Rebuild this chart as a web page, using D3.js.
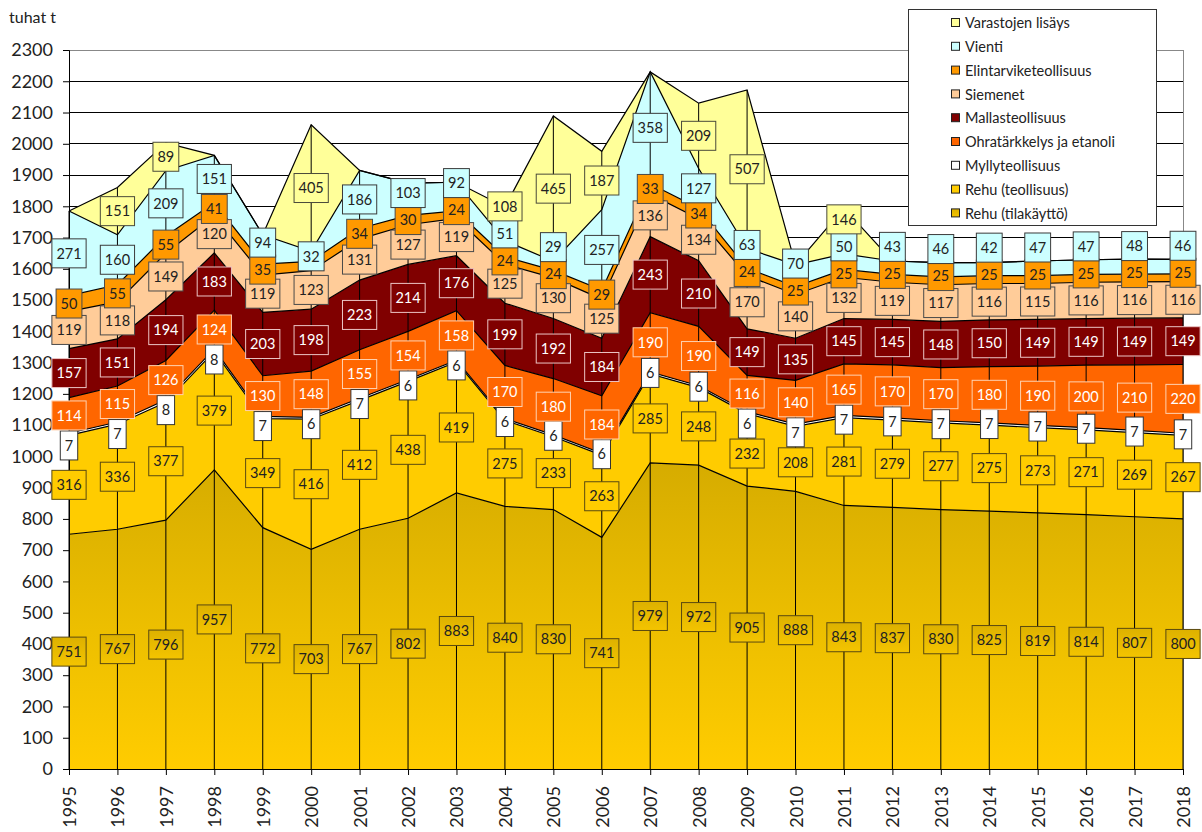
<!DOCTYPE html>
<html><head><meta charset="utf-8">
<script src="https://cdn.jsdelivr.net/npm/d3@7"></script>
<style>
body{margin:0;background:#fff}
svg{display:block}
text{font-family:Lato,"Open Sans",sans-serif}
</style>
</head><body>
<svg id="chart" width="1202" height="832"></svg>
<script>
// ---------- DATA ----------
const years = [1995,1996,1997,1998,1999,2000,2001,2002,2003,2004,2005,2006,2007,2008,2009,2010,2011,2012,2013,2014,2015,2016,2017,2018];
const seriesNames = ["Rehu (tilakäyttö)","Rehu (teollisuus)","Myllyteollisuus","Ohratärkkelys ja etanoli","Mallasteollisuus","Siemenet","Elintarviketeollisuus","Vienti","Varastojen lisäys"];
const rehuTila      = [751,767,796,957,772,703,767,802,883,840,830,741,979,972,905,888,843,837,830,825,819,814,807,800];
const rehuTeoll     = [316,336,377,379,349,416,412,438,419,275,233,263,285,248,232,208,281,279,277,275,273,271,269,267];
const mylly         = [7,7,8,8,7,6,7,6,6,6,6,6,6,6,6,7,7,7,7,7,7,7,7,7];
const ohra          = [114,115,126,124,130,148,155,154,158,170,180,184,190,190,116,140,165,170,170,180,190,200,210,220];
const mallas        = [157,151,194,183,203,198,223,214,176,199,192,184,243,210,149,135,145,145,148,150,149,149,149,149];
const siemenet      = [119,118,149,120,119,123,131,127,119,125,130,125,136,134,170,140,132,119,117,116,115,116,116,116];
const elintarvike   = [50,55,55,41,35,30,34,30,24,24,24,29,33,34,24,25,25,25,25,25,25,25,25,25];
const vienti        = [271,160,209,151,94,32,186,103,92,51,29,257,358,127,63,70,50,43,46,42,47,47,48,46];
const varastot      = [0,151,89,0,0,405,0,0,0,108,465,187,0,209,507,0,146,0,0,0,0,0,0,0];
const yTicks = [0,100,200,300,400,500,600,700,800,900,1000,1100,1200,1300,1400,1500,1600,1700,1800,1900,2000,2100,2200,2300];
const unitLabel = "tuhat t";
const legendOrder = ["Varastojen lisäys","Vienti","Elintarviketeollisuus","Siemenet","Mallasteollisuus","Ohratärkkelys ja etanoli","Myllyteollisuus","Rehu (teollisuus)","Rehu (tilakäyttö)"];
// value labels that are hidden (covered) in the original chart
const hiddenLabels = [["Elintarviketeollisuus",2000]];

// ---------- STYLE ----------
const seriesValues = [rehuTila, rehuTeoll, mylly, ohra, mallas, siemenet, elintarvike, vienti, varastot];
const fills = ["url(#gTila)","#FFCC00","#FFFFFF","#FF6600","#800000","#FFCC99","#FF9900","#CCFFFF","#FFFF99"];
const labelFill = ["url(#gTilaBox)","#FFCC00","#FFFFFF","#FF6600","#800000","#FFCC99","#FF9900","#CCFFFF","#FFFF99"];
const labelStroke = ["#5a4a10","#5a4a10","#333","#FFD2B0","#EBC4C4","#4a4a4a","#4a4a4a","#3a3a3a","#4a4a3a"];
const labelText = ["#222","#222","#222","#FFFFFF","#FFFFFF","#222","#222","#222","#222"];

const table = years.map((yr,j)=>{
  const o = {year:yr};
  seriesNames.forEach((n,i)=>o[n]=seriesValues[i][j]);
  return o;
});

const svg = d3.select("#chart");
const defs = svg.append("defs");
const g1 = defs.append("linearGradient").attr("id","gTila").attr("x1",0).attr("y1",0).attr("x2",0).attr("y2",1);
g1.append("stop").attr("offset","0").attr("stop-color","#D6AC00");
g1.append("stop").attr("offset","0.55").attr("stop-color","#EDBF00");
g1.append("stop").attr("offset","1").attr("stop-color","#FFCC00");
const g2 = defs.append("linearGradient").attr("id","gTilaBox").attr("x1",0).attr("y1",0).attr("x2",0).attr("y2",1);
g2.append("stop").attr("offset","0").attr("stop-color","#DDB100");
g2.append("stop").attr("offset","1").attr("stop-color","#F4C400");

const x = d3.scalePoint().domain(years).range([69,1183]);
const y = d3.scaleLinear().domain([0,2300]).range([769,50]);

// gridlines
svg.append("g").selectAll("line").data(yTicks.filter(t=>t>0)).join("line")
  .attr("x1",69).attr("x2",1183).attr("y1",d=>y(d)).attr("y2",d=>y(d))
  .attr("stroke",d=>d===2300?"#888":"#000").attr("stroke-width",1).attr("shape-rendering","crispEdges");
svg.append("line").attr("x1",1183).attr("x2",1183).attr("y1",y(2300)).attr("y2",y(0))
  .attr("stroke","#888").attr("shape-rendering","crispEdges");

// stack
const stacked = d3.stack().keys(seriesNames)(table);
const area = d3.area().x(d=>x(d.data.year)).y0(d=>y(d[0])).y1(d=>y(d[1]));
const topLine = d3.line().x(d=>x(d.data.year)).y(d=>y(d[1]));
svg.append("g").selectAll("path").data(stacked).join("path")
  .attr("d",area).attr("fill",(d,i)=>fills[i]).attr("stroke","none");
svg.append("g").selectAll("path").data(stacked).join("path")
  .attr("d",topLine).attr("fill","none").attr("stroke","#000").attr("stroke-width",1.2);

// drop lines
const totals = stacked[stacked.length-1];
svg.append("g").selectAll("line").data(totals).join("line")
  .attr("x1",d=>x(d.data.year)).attr("x2",d=>x(d.data.year))
  .attr("y1",y(0)).attr("y2",d=>y(d[1]))
  .attr("stroke","#000").attr("stroke-width",1);

// axes
const yAxis = svg.append("g").attr("transform","translate(69,0)")
  .call(d3.axisLeft(y).tickValues(yTicks).tickSize(6).tickPadding(10).tickFormat(d3.format("d")));
yAxis.select(".domain").attr("stroke","#000");
yAxis.selectAll(".tick line").attr("stroke","#000");
yAxis.selectAll("text").attr("font-size",18).attr("fill","#222").attr("font-family","Lato");

const xAxis = svg.append("g").attr("transform","translate(0,769)")
  .call(d3.axisBottom(x).tickSize(6).tickSizeOuter(0));
xAxis.select(".domain").attr("stroke","#000");
xAxis.selectAll(".tick line").attr("stroke","#000");
xAxis.selectAll("text").attr("font-size",18).attr("fill","#222").attr("font-family","Lato")
  .attr("transform","rotate(-90)").attr("x",-17).attr("y",0).attr("dy","0.36em").attr("text-anchor","end");

svg.append("text").attr("x",9).attr("y",23).attr("font-size",16).attr("fill","#222").text(unitLabel);

// labels
const H = 29;
const labels = [];
stacked.forEach((s,i)=>{
  s.forEach((d,j)=>{
    const v = seriesValues[i][j];
    const hidden = hiddenLabels.some(h=>h[0]===seriesNames[i] && h[1]===years[j]);
    if (v>0 && !hidden) labels.push({i,j,v,cx:x(d.data.year),cy:y((d[0]+d[1])/2)});
  });
});
years.forEach((yr,j)=>{
  const L = labels.filter(l=>l.j===j);
  const get = i=>L.find(l=>l.i===i);
  const m = get(2), o = get(3), t = get(1);
  if (m && o && (m.cy - H/2) < (o.cy + H/2)) m.cy = o.cy + H + 1;
  if (t && m && (t.cy - H/2) < (m.cy + H/2)) t.cy = m.cy + H + 1;
  let prev = o;
  for (let i=4;i<9;i++){
    const l = get(i); if(!l) continue;
    if (prev && (prev.cy - l.cy) < H - 6) l.cy = prev.cy - H + 2;
    prev = l;
  }
});
const lg = svg.append("g");
labels.sort((a,b)=>a.i-b.i).forEach(l=>{
  const gg = lg.append("g");
  const r = gg.append("rect");
  const tx = gg.append("text").attr("x",l.cx).attr("y",l.cy).attr("dy","0.36em")
    .attr("text-anchor","middle").attr("font-size",14.5).attr("fill",labelText[l.i]).text(l.v);
  const w = tx.node().getComputedTextLength() + 9;
  r.attr("x",l.cx - w/2).attr("y",l.cy - H/2).attr("width",w).attr("height",H)
   .attr("fill",labelFill[l.i]).attr("stroke",labelStroke[l.i]).attr("stroke-width",1);
});

// legend
const leg = svg.append("g");
leg.append("rect").attr("x",908.5).attr("y",9.5).attr("width",248).attr("height",216)
  .attr("fill","#fff").attr("stroke","#333");
legendOrder.forEach((n,k)=>{
  const i = seriesNames.indexOf(n);
  const cy = 23 + k*23.8;
  leg.append("rect").attr("x",951.5).attr("y",cy-4.5).attr("width",8).attr("height",8)
    .attr("fill",labelFill[i]).attr("stroke","#222");
  leg.append("text").attr("x",965).attr("y",cy).attr("dy","0.36em").attr("font-size",14.5)
    .attr("fill","#222").text(n);
});
</script>
</body></html>
